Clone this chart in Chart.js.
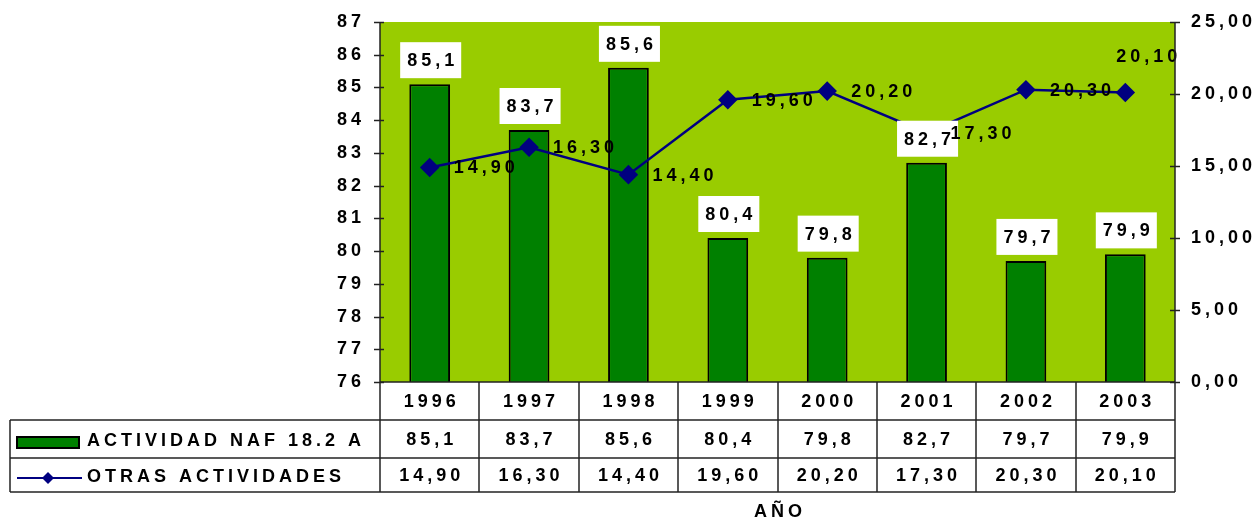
<!DOCTYPE html>
<html><head><meta charset="utf-8">
<script src="https://cdn.jsdelivr.net/npm/chart.js@4"></script>
<style>html,body{margin:0;padding:0;background:#fff}canvas{display:block}</style>
</head><body>
<canvas id="c" width="1257" height="521"></canvas>
<script>
const years = ['1996','1997','1998','1999','2000','2001','2002','2003'];
const actividadNaf = [85.1, 83.7, 85.6, 80.4, 79.8, 82.7, 79.7, 79.9];
const otrasActividades = [14.90, 16.30, 14.40, 19.60, 20.20, 17.30, 20.30, 20.10];
const seriesNames = ['ACTIVIDAD NAF 18.2 A', 'OTRAS ACTIVIDADES'];
const leftRange = [76, 87];
const rightRange = [0, 25];
const axisTitle = 'AÑO';

const fmt1 = v => v.toFixed(1).replace('.', ',');
const fmt2 = v => v.toFixed(2).replace('.', ',');
const FAM = '"Liberation Sans", Arial, sans-serif';
const FONT = 'bold 18px ' + FAM;
const LS = 4;
const GREEN = '#008000', NAVY = '#000080', BG = '#99CC00', LINEC = '#222';

function txt(ctx, s, x, y, align) {
  ctx.textAlign = align || 'center';
  ctx.textBaseline = 'middle';
  const dx = (align === 'left') ? 0 : (align === 'right' ? LS : LS / 2);
  ctx.fillText(s, x + dx, y);
}

const custom = {
  id: 'custom',
  beforeDraw(chart) {
    const { ctx, chartArea: a } = chart;
    ctx.letterSpacing = LS + 'px';
    ctx.save();
    ctx.fillStyle = BG;
    ctx.fillRect(a.left, a.top, a.right - a.left, a.bottom - a.top);
    ctx.restore();
  },
  afterDatasetsDraw(chart) {
    const ctx = chart.ctx;
    ctx.save();
    ctx.letterSpacing = LS + 'px';
    ctx.font = FONT;
    ctx.fillStyle = '#000';
    chart.getDatasetMeta(0).data.forEach((el, i) => {
      const s = fmt1(actividadNaf[i]);
      const w = ctx.measureText(s).width - LS;
      const bw = w + 14, bh = 36;
      const bx = el.x - bw / 2 + 1, by = el.y - 6 - bh;
      ctx.fillStyle = '#fff';
      ctx.fillRect(bx, by, bw, bh);
      ctx.fillStyle = '#000';
      txt(ctx, s, el.x + 1, by + bh / 2 + 1);
    });
    chart.getDatasetMeta(1).data.forEach((el, i) => {
      const s = fmt2(otrasActividades[i]);
      if (i === otrasActividades.length - 1) {
        txt(ctx, s, el.x - 9, el.y - 36, 'left');
      } else {
        txt(ctx, s, el.x + 24, el.y + 1, 'left');
      }
    });
    ctx.restore();
  },
  afterDraw(chart) {
    const ctx = chart.ctx;
    const a = chart.chartArea;
    const x = chart.scales.x, yl = chart.scales.y, yr = chart.scales.y1;
    ctx.save();
    ctx.letterSpacing = LS + 'px';
    ctx.strokeStyle = LINEC;
    ctx.lineWidth = 1.5;
    const line = (x1, y1, x2, y2) => { ctx.beginPath(); ctx.moveTo(x1, y1); ctx.lineTo(x2, y2); ctx.stroke(); };
    const L = Math.round(a.left), R = Math.round(a.right), B = Math.round(a.bottom), T = Math.round(a.top);
    const r1 = B, r2 = B + 38, r3 = B + 76, r4 = B + 110, TL = 10;
    line(L, T, L, r4);
    line(R, T, R, r4);
    line(L, B, R, B);
    for (let t = leftRange[0]; t <= leftRange[1]; t++) {
      const yy = Math.round(yl.getPixelForValue(t)) + 0.5;
      line(L - 6, yy, L + 4, yy);
    }
    for (let t = rightRange[0]; t <= rightRange[1]; t += 5) {
      const yy = Math.round(yr.getPixelForValue(t)) + 0.5;
      line(R - 5, yy, R + 5, yy);
    }
    line(TL, r2, R, r2);
    line(TL, r3, R, r3);
    line(TL, r4, R, r4);
    line(TL, r2, TL, r4);
    const cw = (R - L) / years.length;
    for (let i = 1; i < years.length; i++) {
      const xx = Math.round(L + cw * i);
      line(xx, r1, xx, r4);
    }
    ctx.font = FONT;
    ctx.fillStyle = '#000';
    years.forEach((yv, i) => {
      const cx = x.getPixelForValue(i);
      txt(ctx, yv, cx, (r1 + r2) / 2 + 1);
      txt(ctx, fmt1(actividadNaf[i]), cx, (r2 + r3) / 2 + 1);
      txt(ctx, fmt2(otrasActividades[i]), cx, (r3 + r4) / 2 + 1);
    });
    ctx.fillStyle = GREEN;
    ctx.fillRect(17, 437, 62, 11);
    ctx.strokeStyle = '#000';
    ctx.lineWidth = 2;
    ctx.strokeRect(17, 437, 62, 11);
    ctx.strokeStyle = NAVY;
    ctx.lineWidth = 2;
    line(17, 478, 82, 478);
    ctx.fillStyle = NAVY;
    ctx.beginPath();
    ctx.moveTo(48, 472); ctx.lineTo(54, 478); ctx.lineTo(48, 484); ctx.lineTo(42, 478); ctx.closePath(); ctx.fill();
    ctx.fillStyle = '#000';
    txt(ctx, seriesNames[0], 87, (r2 + r3) / 2 + 2, 'left');
    txt(ctx, seriesNames[1], 87, (r3 + r4) / 2 + 2, 'left');
    txt(ctx, axisTitle, 778, 512);
    ctx.restore();
  }
};

new Chart(document.getElementById('c'), {
  data: {
    labels: years,
    datasets: [
      {
        type: 'bar', label: seriesNames[0], data: actividadNaf, yAxisID: 'y', order: 2,
        backgroundColor: GREEN, borderColor: '#000', borderWidth: 2,
        barPercentage: 0.41, categoryPercentage: 1
      },
      {
        type: 'line', label: seriesNames[1], data: otrasActividades, yAxisID: 'y1', order: 1,
        borderColor: NAVY, backgroundColor: NAVY, borderWidth: 2.5,
        pointStyle: 'rectRot', pointRadius: 8, pointBackgroundColor: NAVY, pointBorderColor: NAVY,
        tension: 0
      }
    ]
  },
  options: {
    responsive: false,
    animation: false,
    devicePixelRatio: 1,
    layout: { padding: { top: 22, bottom: 139, left: 0, right: 0 } },
    plugins: { legend: { display: false }, tooltip: { enabled: false } },
    scales: {
      x: { type: 'category', display: false, offset: true },
      y: {
        position: 'left', min: leftRange[0], max: leftRange[1],
        afterFit(s) { s.width = 380; s.paddingTop = 0; s.paddingBottom = 0; },
        grid: { display: false, drawTicks: false }, border: { display: false },
        ticks: { stepSize: 1, padding: 15, color: '#000', font: { family: FAM, weight: 'bold', size: 18 } }
      },
      y1: {
        position: 'right', min: rightRange[0], max: rightRange[1],
        afterFit(s) { s.width = 82; s.paddingTop = 0; s.paddingBottom = 0; },
        grid: { display: false, drawTicks: false }, border: { display: false },
        ticks: { stepSize: 5, padding: 16, color: '#000', font: { family: FAM, weight: 'bold', size: 18 },
          callback: v => fmt2(v) }
      }
    }
  },
  plugins: [custom]
});
</script>
</body></html>
